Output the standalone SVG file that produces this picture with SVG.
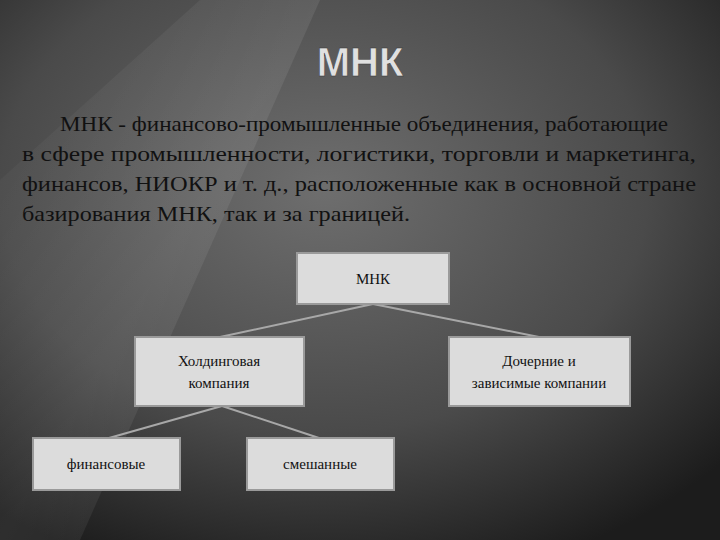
<svg xmlns="http://www.w3.org/2000/svg" width="720" height="540" viewBox="0 0 720 540">
<defs>
<radialGradient id="bg" cx="0.45" cy="0.35" r="0.75">
<stop offset="0" stop-color="#6e6e6e"/>
<stop offset="0.6" stop-color="#4a4a4a"/>
<stop offset="1" stop-color="#1c1c1c"/>
</radialGradient>
<linearGradient id="streak" x1="0" y1="0" x2="1" y2="1">
<stop offset="0" stop-color="#fff" stop-opacity="0"/>
<stop offset="0.5" stop-color="#fff" stop-opacity="0.08"/>
<stop offset="1" stop-color="#fff" stop-opacity="0"/>
</linearGradient>
</defs>
<style>
.box{fill:#dcdcdc;stroke:#9a9a9a;stroke-width:2}
.t{font-size:15px;fill:#111;text-anchor:middle}
.body{font-size:21px;fill:#111}
.ln{stroke:#a8a8a8;stroke-width:2;fill:none}
</style>
<rect width="720" height="540" fill="url(#bg)"/>
<polygon points="0,180 200,0 320,0 80,540 0,540" fill="url(#streak)"/>
<text x="360" y="76" font-family="'Liberation Sans', Arial, sans-serif" font-weight="bold" font-size="40" fill="#e0e0e0" stroke="#333" stroke-width="0.5" text-anchor="middle">МНК</text>
<g font-family="'Liberation Serif', 'Times New Roman', 'DejaVu Serif', serif">
<text class="body" x="60" y="131" textLength="608" lengthAdjust="spacingAndGlyphs">МНК - финансово-промышленные объединения, работающие</text>
<text class="body" x="22" y="161" textLength="674" lengthAdjust="spacingAndGlyphs">в сфере промышленности, логистики, торговли и маркетинга,</text>
<text class="body" x="22" y="191" textLength="674" lengthAdjust="spacingAndGlyphs">финансов, НИОКР и т. д., расположенные как в основной стране</text>
<text class="body" x="22" y="221" textLength="388" lengthAdjust="spacingAndGlyphs">базирования МНК, так и за границей.</text>
<g id="connectors">
<line class="ln" x1="373" y1="304" x2="220" y2="337"/>
<line class="ln" x1="373" y1="304" x2="539" y2="337"/>
<line class="ln" x1="222" y1="406" x2="109" y2="438"/>
<line class="ln" x1="222" y1="406" x2="319" y2="438"/>
</g>
<g id="mnk"><rect class="box" x="297" y="253" width="152" height="51"/><text class="t" x="373" y="284">МНК</text></g>
<g id="holding"><rect class="box" x="135" y="337" width="169" height="69"/><text class="t" x="219" y="366">Холдинговая</text><text class="t" x="219" y="388">компания</text></g>
<g id="subs"><rect class="box" x="449" y="337" width="181" height="69"/><text class="t" x="539" y="366">Дочерние и</text><text class="t" x="539" y="388">зависимые компании</text></g>
<g id="fin"><rect class="box" x="33" y="438" width="147" height="52"/><text class="t" x="106" y="469">финансовые</text></g>
<g id="mixed"><rect class="box" x="247" y="438" width="147" height="52"/><text class="t" x="320" y="469">смешанные</text></g>
</g>
</svg>
